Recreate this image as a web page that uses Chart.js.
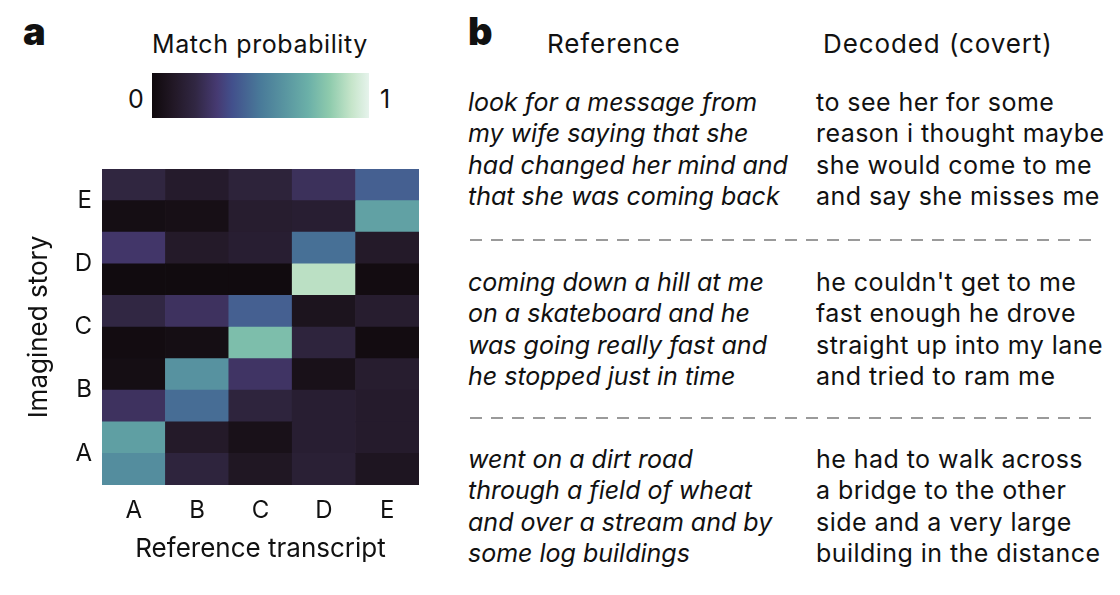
<!DOCTYPE html>
<html>
<head>
<meta charset="utf-8">
<script src="https://cdn.jsdelivr.net/npm/chart.js@4"></script>
<style>
  body { margin: 0; background: #fff; font-family: Inter, "Noto Sans", sans-serif; color: #111; }
  #page { position: relative; width: 1120px; height: 595px; overflow: hidden; }
  .abs { position: absolute; white-space: nowrap; }
  .panel { font-weight: 900; font-size: 38px; line-height: 1; }
  .txt { font-size: 25px; line-height: 31.3px; letter-spacing: 0.45px; }
  .it { font-style: italic; letter-spacing: 0; }
  .head { font-size: 26px; letter-spacing: 0.9px; }
  .dash { position: absolute; left: 470px; width: 627px; height: 2px;
          background: repeating-linear-gradient(90deg, #9a9a9a 0 12px, transparent 12px 21px); }
  #cbar { position: absolute; left: 152px; top: 73px; width: 217px; height: 45px; }
</style>
</head>
<body>
<div id="page">
  <div class="abs panel" style="left:23px; top:12px;">a</div>
  <div class="abs txt" style="left:152px; top:29px; letter-spacing:0.6px;">Match probability</div>
  <div class="abs txt" style="left:128px; top:84px;">0</div>
  <div id="cbar"></div>
  <div class="abs txt" style="left:380px; top:84px;">1</div>

  <div style="position:absolute; left:0; top:0; width:440px; height:595px;">
    <canvas id="heat"></canvas>
  </div>

  <div class="abs panel" style="left:468px; top:12px;">b</div>
  <div class="abs txt head" style="left:547px; top:28px;">Reference</div>
  <div class="abs txt head" style="left:823px; top:28px;">Decoded (covert)</div>

  <div class="abs txt it" style="left:468px; top:87px;">look for a message from<br>my wife saying that she<br>had changed her mind and<br>that she was coming back</div>
  <div class="abs txt" style="left:816px; top:87px;">to see her for some<br>reason i thought maybe<br>she would come to me<br>and say she misses me</div>
  <div class="dash" style="top:239px;"></div>

  <div class="abs txt it" style="left:468px; top:267px;">coming down a hill at me<br>on a skateboard and he<br>was going really fast and<br>he stopped just in time</div>
  <div class="abs txt" style="left:816px; top:267px;">he couldn't get to me<br>fast enough he drove<br>straight up into my lane<br>and tried to ram me</div>
  <div class="dash" style="top:417px;"></div>

  <div class="abs txt it" style="left:468px; top:444px;">went on a dirt road<br>through a field of wheat<br>and over a stream and by<br>some log buildings</div>
  <div class="abs txt" style="left:816px; top:444px;">he had to walk across<br>a bridge to the other<br>side and a very large<br>building in the distance</div>
</div>

<script>
// columns = reference transcript, rows = imagined story (two rows per story, lower first)
const columns = ['A', 'B', 'C', 'D', 'E'];
const stories = ['A', 'B', 'C', 'D', 'E'];
const storyA = [[0.58, 0.18, 0.09, 0.15, 0.08], [0.65, 0.11, 0.05, 0.14, 0.12]];
const storyB = [[0.26, 0.46, 0.18, 0.14, 0.12], [0.03, 0.60, 0.27, 0.05, 0.13]];
const storyC = [[0.02, 0.03, 0.77, 0.18, 0.02], [0.20, 0.26, 0.42, 0.07, 0.13]];
const storyD = [[0.01, 0.01, 0.01, 0.90, 0.02], [0.28, 0.11, 0.14, 0.47, 0.11]];
const storyE = [[0.03, 0.04, 0.13, 0.14, 0.66], [0.19, 0.12, 0.17, 0.25, 0.42]];
const storyTicks = [1, 3, 5, 7, 9];

// colour map (mako-like), position -> colour
const cmapPos = [0, 0.10, 0.20, 0.30, 0.37, 0.50, 0.62, 0.72, 0.82, 0.92, 1];
const cmapCol = ['#0f090c', '#221826', '#312743', '#463a72', '#42508c', '#497a99',
                 '#5a97a1', '#6bb0a8', '#8fcbad', '#c6e5ca', '#e6f3ec'];

function hexRgb(h) {
  return [1, 3, 5].map(i => parseInt(h.slice(i, i + 2), 16));
}
function colorAt(v) {
  for (let i = 1; i < cmapPos.length; i++) {
    if (v <= cmapPos[i]) {
      const t = (v - cmapPos[i - 1]) / (cmapPos[i] - cmapPos[i - 1]);
      const a = hexRgb(cmapCol[i - 1]), b = hexRgb(cmapCol[i]);
      const c = a.map((x, k) => Math.round(x + (b[k] - x) * t));
      return `rgb(${c[0]},${c[1]},${c[2]})`;
    }
  }
  return cmapCol[cmapCol.length - 1];
}

document.getElementById('cbar').style.background =
  'linear-gradient(90deg,' + cmapCol.map((c, i) => `${c} ${cmapPos[i] * 100}%`).join(',') + ')';

const rows = [storyA, storyB, storyC, storyD, storyE].flat();

Chart.defaults.font.family = 'Inter, "Noto Sans", sans-serif';
Chart.defaults.font.size = 24;
Chart.defaults.color = '#111';

new Chart(document.getElementById('heat'), {
  type: 'bar',
  data: {
    labels: columns,
    datasets: rows.map(r => ({
      data: columns.map(() => 1),
      backgroundColor: r.map(colorAt),
      borderWidth: 0,
      barPercentage: 1,
      categoryPercentage: 1
    }))
  },
  options: {
    responsive: true,
    maintainAspectRatio: false,
    animation: false,
    layout: { padding: { top: 169, right: 21, left: 0, bottom: 0 } },
    plugins: { legend: { display: false }, tooltip: { enabled: false } },
    scales: {
      x: {
        stacked: true,
        grid: { display: false },
        border: { display: false },
        ticks: { padding: 3 },
        title: { display: true, text: 'Reference transcript', font: { size: 26 }, padding: { top: 0, bottom: 30 } },
        afterFit: s => { s.height = 110; }
      },
      y: {
        stacked: true,
        min: 0,
        max: 10,
        grid: { display: false },
        border: { display: false },
        afterBuildTicks: s => { s.ticks = storyTicks.map(v => ({ value: v })); },
        ticks: { autoSkip: false, padding: 2, callback: v => stories[(v - 1) / 2] },
        title: { display: true, text: 'Imagined story', font: { size: 26 }, padding: { top: 24, bottom: 0 } },
        afterFit: s => { s.width = 102; }
      }
    }
  }
});
</script>
</body>
</html>
